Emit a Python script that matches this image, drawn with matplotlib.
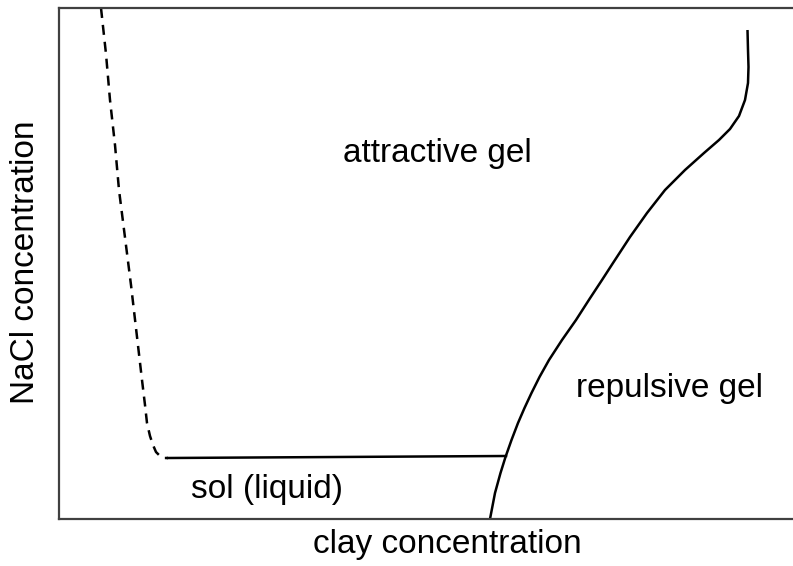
import matplotlib
matplotlib.use("Agg")
import matplotlib.pyplot as plt
import numpy as np

plt.rcParams['font.family'] = ['Liberation Sans', 'DejaVu Sans']

# Phase boundaries (arbitrary units: clay concentration, NaCl concentration)
dashed_x = [42, 47, 51, 56, 60, 72, 83, 86, 88, 91, 94, 97, 101, 105, 109]
dashed_y = [511, 465, 419, 374, 329, 234, 139, 114, 96, 83, 74, 67, 63, 61, 61]

sol_line_x = [109, 447]
sol_line_y = [61, 63]

repulsive_x = [431, 436, 441.5, 446.5, 452.5, 459, 465.5, 472.5, 480.5, 490, 503, 517, 530.5,
               543, 554, 571, 588, 606, 626, 645, 660, 671, 680, 686, 689, 689.5, 689, 688.5]
repulsive_y = [0, 26, 46, 62, 79, 96, 111, 126, 142, 159, 179, 199, 220,
               239, 256, 282, 306, 329, 349, 366, 379, 390, 403, 419, 436, 452, 469, 489]

region_labels = ["attractive gel", "repulsive gel", "sol (liquid)"]
region_x = [378, 611, 208]
region_y = [357, 122, 21]

W, H = 793, 566
fig = plt.figure(figsize=(W / 100, H / 100), dpi=100)
ax = fig.add_axes([59 / W, 47 / H, 1 - 59 / W, (519 - 7.5) / H])
ax.set_xlim(0, 734)
ax.set_ylim(0, 511.5)

ax.plot(dashed_x, dashed_y, color='black', lw=1.8, dashes=(4.0, 2.8))
ax.plot(sol_line_x, sol_line_y, color='black', lw=1.8)
ax.plot(repulsive_x, repulsive_y, color='black', lw=1.8, solid_capstyle='butt',
        solid_joinstyle='round')

for t, x, y in zip(region_labels, region_x, region_y):
    ax.text(x, y, t, ha='center', va='baseline', fontsize=24, color='black')

ax.set_xticks([])
ax.set_yticks([])
for s in ['left', 'bottom', 'top']:
    ax.spines[s].set_color('#404040')
    ax.spines[s].set_linewidth(1.6)
ax.spines['right'].set_visible(False)

fig.text(447 / W, 1 - 553 / H, "clay concentration", ha='center', va='baseline', fontsize=24)
fig.text(10 / W, 1 - 262 / H, "NaCl concentration", ha='left', va='center', rotation=90, fontsize=24)

fig.savefig("out.png", dpi=100)
